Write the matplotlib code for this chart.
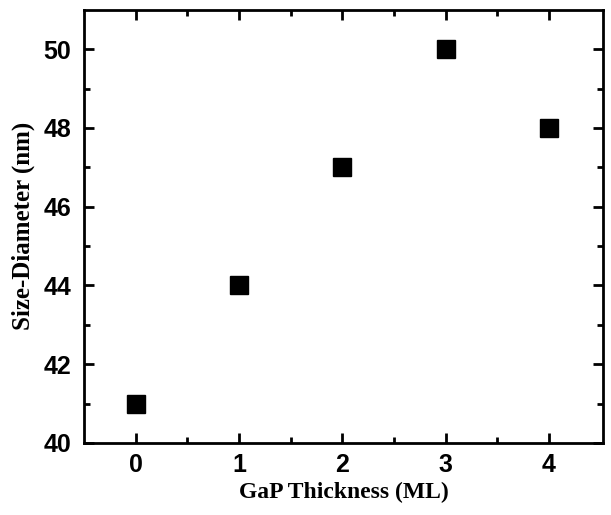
import matplotlib
matplotlib.use("Agg")
import matplotlib.pyplot as plt

gap_thickness = [0, 1, 2, 3, 4]
size_diameter = [41, 44, 47, 50, 48]
x_ticks = [0, 1, 2, 3, 4]
y_ticks = [40, 42, 44, 46, 48, 50]

fig = plt.figure(figsize=(6.11, 5.15), dpi=100)
ax = fig.add_axes([0.1375, 0.140, 0.849, 0.841])
ax.plot(gap_thickness, size_diameter, linestyle='none', marker='s',
        markersize=12.5, color='black')
ax.set_xlim(-0.5, 4.52)
ax.set_ylim(40, 51)
ax.set_xticks(x_ticks)
ax.set_yticks(y_ticks)
ax.set_xticks([0.5, 1.5, 2.5, 3.5], minor=True)
ax.set_yticks([41, 43, 45, 47, 49], minor=True)
ax.tick_params(which='both', direction='in', top=True, right=True, width=2)
ax.tick_params(which='major', length=7, labelsize=18)
ax.tick_params(axis='x', which='major', pad=7)
ax.tick_params(axis='y', which='major', pad=9)
ax.tick_params(which='minor', length=4)
for lab in ax.get_xticklabels() + ax.get_yticklabels():
    lab.set_fontweight('bold')
    lab.set_family('Liberation Sans')
for s in ax.spines.values():
    s.set_linewidth(2)
ax.set_xlabel('GaP Thickness (ML)', fontsize=17, fontweight='bold', family='Liberation Serif', labelpad=4)
ax.set_ylabel('Size-Diameter (nm)', fontsize=18, fontweight='bold', family='Liberation Serif', labelpad=6)
fig.savefig('out.png', dpi=100)
